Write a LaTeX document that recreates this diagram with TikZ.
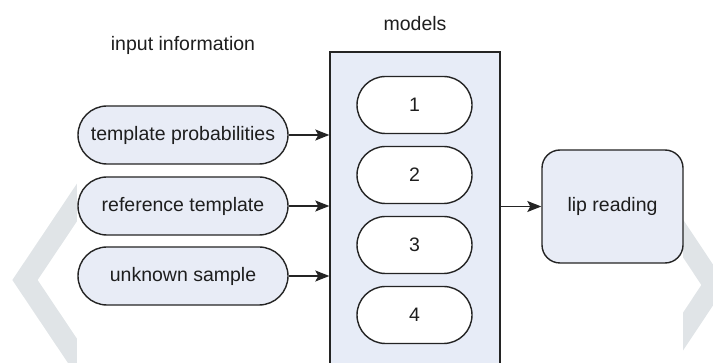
\documentclass[tikz,border=0pt]{standalone}
\usepackage{fontspec}
\setmainfont{Liberation Sans}
\usetikzlibrary{arrows.meta,shapes.misc}
\definecolor{inkline}{RGB}{36,36,36}
\definecolor{inktext}{RGB}{30,30,30}
\definecolor{paleblue}{RGB}{232,236,246}
\definecolor{boxblue}{RGB}{231,236,247}
\definecolor{markgray}{RGB}{224,228,231}
\tikzset{
  every node/.style={font=\fontsize{19.5}{23}\selectfont, text=inktext},
  inpill/.style={rounded rectangle, draw=inkline, line width=1.4pt, fill=paleblue,
    minimum width=210pt, minimum height=58pt, inner sep=0pt},
  modelpill/.style={rounded rectangle, draw=inkline, line width=1.4pt, fill=white,
    minimum width=115pt, minimum height=57pt, inner sep=0pt},
  groupbox/.style={draw=inkline, line width=1.4pt, fill=boxblue,
    minimum width=170pt, minimum height=330pt, inner sep=0pt},
  outbox/.style={draw=inkline, line width=1.4pt, fill=paleblue, rounded corners=18pt,
    minimum width=141pt, minimum height=113pt, inner sep=0pt},
  flow/.style={draw=inkline, line width=1.3pt, -{Stealth[length=14pt,width=11pt,inset=3pt]}},
  chevron/.style={draw=markgray, line width=21pt, miter limit=10, line join=miter},
}
\begin{document}
\begin{tikzpicture}[x=1pt, y=-1pt]
  \useasboundingbox (0,0) rectangle (713,363);
  \begin{scope}
    \clip (0,0) rectangle (713,363);
    % faint chevrons at both sides
    \draw[chevron] (159,80) -- (25,280) -- (159,480);
    \draw[chevron] (581,85) -- (714,285) -- (581,485);
    \fill[white] (77,0) rectangle (683,363);

    % headings
    \node (inhead) at (183,45) {input information};
    \node (modhead) at (415,24) {models};

    % inputs
    \node[inpill] (tp) at (183,135) {template probabilities};
    \node[inpill] (rt) at (183,206) {reference template};
    \node[inpill] (us) at (183,276) {unknown sample};

    % models group
    \node[groupbox] (models) at (415,217) {};
    \node[modelpill] (m1) at (414.5,105) {1};
    \node[modelpill] (m2) at (414.5,175) {2};
    \node[modelpill] (m3) at (414.5,245) {3};
    \node[modelpill] (m4) at (414.5,315) {4};

    % output
    \node[outbox] (lip) at (612.5,206.5) {lip reading};

    % connectors
    \draw[flow] (tp.east) -- (models.west |- tp.east);
    \draw[flow] (rt.east) -- (models.west |- rt.east);
    \draw[flow] (us.east) -- (models.west |- us.east);
    \draw[flow] (models.east |- lip.west) -- (lip.west);
  \end{scope}
\end{tikzpicture}
\end{document}
